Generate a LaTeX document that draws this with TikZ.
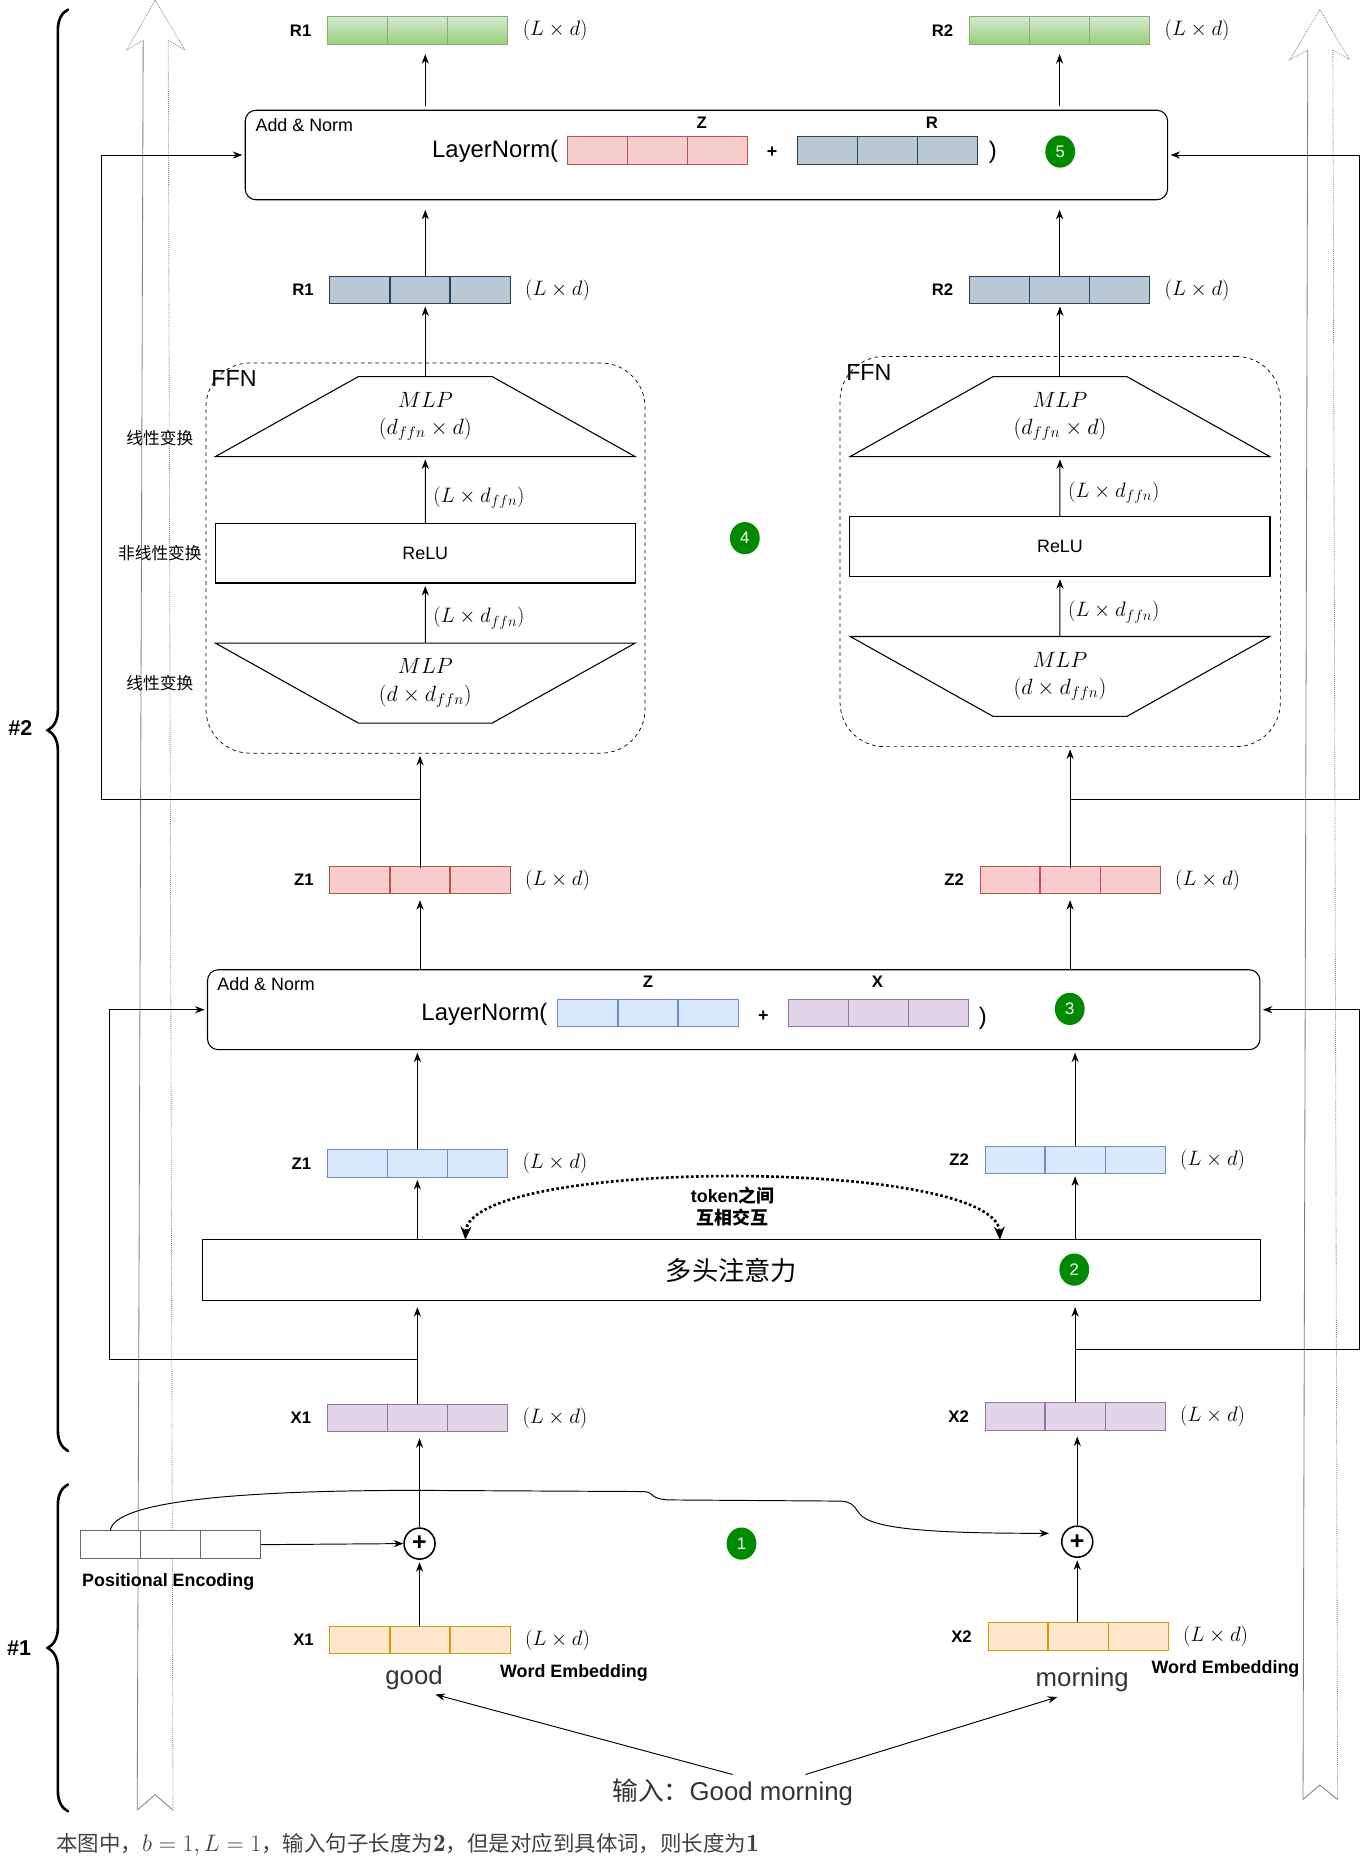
\RequirePackage{fix-cm}
\documentclass[tikz,border=0pt]{standalone}
\usepackage{fontspec}
\setmainfont{Liberation Sans}
\newfontfamily\cjk{Noto Sans CJK SC}
\usetikzlibrary{positioning,arrows.meta,calc,shapes.geometric,decorations.pathreplacing}

\definecolor{gnTop}{HTML}{D5E8D4}
\definecolor{gnBot}{HTML}{97D077}
\definecolor{gnLine}{HTML}{82B366}
\definecolor{pkFill}{HTML}{F8CECC}
\definecolor{pkLine}{HTML}{B85450}
\definecolor{stFill}{HTML}{BAC8D3}
\definecolor{stLine}{HTML}{23445D}
\definecolor{buFill}{HTML}{DAE8FC}
\definecolor{buLine}{HTML}{6C8EBF}
\definecolor{puFill}{HTML}{E1D5E7}
\definecolor{puLine}{HTML}{9673A6}
\definecolor{orFill}{HTML}{FFE6CC}
\definecolor{orLine}{HTML}{D79B00}
\definecolor{peLine}{HTML}{666666}
\definecolor{numGreen}{HTML}{008A00}

\newcommand{\fsz}[1]{\fontsize{#1}{#1}\selectfont}
\newcommand{\bnum}[1]{{\fontfamily{lmr}\fsz{21}\bfseries #1}}

\tikzset{
  vec/.style 2 args={draw=#2,fill=#1,line width=0.8pt,minimum width=151pt,minimum height=23pt,inner sep=0pt,
    path picture={\draw[#2,line width=1pt]
      ($(path picture bounding box.south west)!1/3!(path picture bounding box.south east)$) --
      ($(path picture bounding box.north west)!1/3!(path picture bounding box.north east)$)
      ($(path picture bounding box.south west)!2/3!(path picture bounding box.south east)$) --
      ($(path picture bounding box.north west)!2/3!(path picture bounding box.north east)$);}},
  vname/.style={font=\bfseries\fsz{14},inner sep=1pt},
  dimtxt/.style={font=\fsz{17.5},inner sep=1pt},
  conn/.style={-{Stealth[length=8pt,width=6pt]},line width=0.8pt,shorten >=2pt},
  normbox/.style={draw,line width=0.9pt,rounded corners=9pt,inner sep=0pt},
  ffnbox/.style={draw,dashed,line width=0.6pt,rounded corners=37pt,inner sep=0pt},
  mlp/.style={draw,line width=0.9pt,trapezium,trapezium stretches=true,
    trapezium left angle=26.2,trapezium right angle=26.2,minimum width=352pt,minimum height=67pt,
    align=center,font=\fontsize{18.5}{23}\selectfont,inner sep=0pt},
  relubox/.style={draw,line width=0.9pt,minimum width=352pt,minimum height=50pt,font=\fsz{15}},
  stepno/.style={ellipse,fill=numGreen,text=white,minimum width=25pt,minimum height=27pt,inner sep=0pt,font=\fsz{14}},
  oplus/.style={circle,draw,line width=1.3pt,minimum size=26pt,inner sep=0pt,font=\bfseries\fsz{21}},
  side/.style={font=\cjk\fsz{14}},
  bigarrow/.style={gray,line width=0.7pt},
  bracket/.style={decorate,decoration={brace,amplitude=17pt},line width=2.2pt,line cap=round},
}

\begin{document}
\begin{tikzpicture}[x=1pt,y=-1pt]
\useasboundingbox (0,0) rectangle (1147,1568);

% braces
\draw[bracket] (57,1216) -- (57,8);
\draw[bracket] (57,1518) -- (57,1244);
\node[font=\bfseries\fsz{18}] (lvl2) at (17,610) {\#2};
\node[font=\bfseries\fsz{18}] (lvl1) at (16,1381) {\#1};

% hollow flow arrows
\draw[bigarrow] (115,1517) -- (120,34);
\draw[bigarrow,densely dotted] (120,34) -- (106,42) -- (130,0) -- (155,42) -- (141,34) -- (145,1517);
\draw[bigarrow] (145,1517) -- (130,1504) -- (115,1517);
\draw[bigarrow] (1092,1508) -- (1096,42);
\draw[bigarrow,densely dotted] (1096,42) -- (1081,50) -- (1106,8) -- (1131,50) -- (1117,42) -- (1121,1508);
\draw[bigarrow] (1121,1508) -- (1106,1496) -- (1092,1508);

% output R1 / R2
\node[vec={gnTop}{gnLine},top color=gnTop,bottom color=gnBot] (r1out) at (350,25.5) {};
\node[vname,left=12pt of r1out] (r1outn) {R1};
\node[dimtxt,right=11pt of r1out] (r1outd) {$(L\times d)$};
\node[vec={gnTop}{gnLine},top color=gnTop,bottom color=gnBot] (r2out) at (888,25.5) {};
\node[vname,left=12pt of r2out] (r2outn) {R2};
\node[dimtxt,right=11pt of r2out] (r2outd) {$(L\times d)$};

% add & norm 5
\node[normbox,minimum width=773pt,minimum height=75pt] (an5) at (592,129.9) {};
\node[font=\fsz{15},anchor=west,inner sep=0pt] (an5t) at (214,104.5) {Add \& Norm};
\node[font=\fsz{20},anchor=east,inner sep=0pt] (an5ln) at (468,127) {LayerNorm(};
\node[vec={pkFill}{pkLine}] (an5z) at (551.2,126) {};
\node[vname] (an5zn) at (588,103) {Z};
\node[font=\bfseries\fsz{15}] (an5p) at (647,128) {+};
\node[vec={stFill}{stLine}] (an5r) at (744,126) {};
\node[vname] (an5rn) at (781,103) {R};
\node[font=\fsz{20}] (an5c) at (832,128) {)};
\node[stepno] (no5) at (888.5,127) {5};

% FFN outputs
\node[vec={stFill}{stLine}] (r1mid) at (352,243) {};
\node[vname,left=12pt of r1mid] (r1midn) {R1};
\node[dimtxt,right=11pt of r1mid] (r1midd) {$(L\times d)$};
\node[vec={stFill}{stLine}] (r2mid) at (888,243) {};
\node[vname,left=12pt of r2mid] (r2midn) {R2};
\node[dimtxt,right=11pt of r2mid] (r2midd) {$(L\times d)$};

% FFN blocks
\node[ffnbox,minimum width=368pt,minimum height=327pt] (ffn1) at (356.6,467.7) {};
\node[font=\fsz{19.5},anchor=west,inner sep=0pt] (ffn1t) at (177,317) {FFN};
\node[mlp] (mlp1u) at (356.4,349.1) {$MLP$\\$(d_{ffn}\times d)$};
\node[relubox] (relu1) at (356.4,463.6) {ReLU};
\node[mlp,shape border rotate=180] (mlp1d) at (356.4,572.5) {$MLP$\\$(d\times d_{ffn})$};
\node[dimtxt,anchor=west] (ff1a) at (362,417) {$(L\times d_{ffn})$};
\node[dimtxt,anchor=west] (ff1b) at (362,518) {$(L\times d_{ffn})$};
\draw[conn] (mlp1d.north) -- (relu1.south);
\draw[conn] (relu1.north) -- (mlp1u.south);
\draw[conn] (mlp1u.north) -- (r1mid.south -| mlp1u.north);

\node[ffnbox,minimum width=369pt,minimum height=327pt] (ffn2) at (888.5,462.2) {};
\node[font=\fsz{19.5},anchor=west,inner sep=0pt] (ffn2t) at (709,312) {FFN};
\node[mlp] (mlp2u) at (888.3,349.1) {$MLP$\\$(d_{ffn}\times d)$};
\node[relubox] (relu2) at (888.3,458) {ReLU};
\node[mlp,shape border rotate=180] (mlp2d) at (888.3,566.9) {$MLP$\\$(d\times d_{ffn})$};
\node[dimtxt,anchor=west] (ff2a) at (894,413) {$(L\times d_{ffn})$};
\node[dimtxt,anchor=west] (ff2b) at (894,513) {$(L\times d_{ffn})$};
\draw[conn] (mlp2d.north) -- (relu2.south);
\draw[conn] (relu2.north) -- (mlp2u.south);
\draw[conn] (mlp2u.north) -- (r2mid.south -| mlp2u.north);

% up through add & norm 5
\draw[conn,shorten >=8pt] (r1mid.north -| mlp1u) -- (an5.south -| mlp1u);
\draw[conn,shorten >=8pt] (r2mid.north) -- (an5.south -| r2mid);
\draw[conn,shorten >=8pt] ([yshift=3pt]an5.north -| mlp1u) -- (r1out.south -| mlp1u);
\draw[conn,shorten >=8pt] ([yshift=3pt]an5.north -| r2out) -- (r2out.south);

\node[side] (sd1) at (134,367) {线性变换};
\node[side] (sd2) at (134,463.6) {非线性变换};
\node[side] (sd3) at (134,572.4) {线性变换};
\node[stepno] (no4) at (624.2,451) {4};

% Z after add & norm
\node[vec={pkFill}{pkLine}] (z1n) at (352,737.5) {};
\node[vname,left=12pt of z1n] (z1nn) {Z1};
\node[dimtxt,right=11pt of z1n] (z1nd) {$(L\times d)$};
\node[vec={pkFill}{pkLine}] (z2n) at (896.8,737.5) {};
\node[vname,left=12pt of z2n] (z2nn) {Z2};
\node[dimtxt,right=11pt of z2n] (z2nd) {$(L\times d)$};
\draw[conn] ([yshift=-2pt]z1n.north) -- (ffn1.south -| z1n);
\draw[conn] ([yshift=-2pt]z2n.north) -- (ffn2.south -| z2n);

% residual into add & norm 5
\coordinate (skL2) at (85,670);
\coordinate (skR2) at (1139,670);
\draw[conn] (skL2 -| z1n) -- (skL2) |- (an5.west);
\draw[conn] (skR2 -| z2n) -- (skR2) |- (an5.east);

% add & norm 3
\node[normbox,minimum width=882pt,minimum height=67pt] (an3) at (614.9,846.2) {};
\node[font=\fsz{15},anchor=west,inner sep=0pt] (an3t) at (182,824.5) {Add \& Norm};
\node[font=\fsz{20},anchor=east,inner sep=0pt] (an3ln) at (459,850) {LayerNorm(};
\node[vec={buFill}{buLine}] (an3z) at (543,849) {};
\node[vname] (an3zn) at (543,823) {Z};
\node[font=\bfseries\fsz{15}] (an3p) at (639.7,851.8) {+};
\node[vec={puFill}{puLine}] (an3x) at (736.1,849) {};
\node[vname] (an3xn) at (735.4,823) {X};
\node[font=\fsz{20}] (an3c) at (823.6,853) {)};
\node[stepno] (no3) at (896.5,845.5) {3};
\draw[conn,shorten >=5pt] (an3.north -| z1n) -- (z1n.south);
\draw[conn,shorten >=5pt] (an3.north -| z2n) -- (z2n.south);

% Z after attention
\node[vec={buFill}{buLine}] (z1a) at (349.8,975) {};
\node[vname,left=12pt of z1a] (z1an) {Z1};
\node[dimtxt,right=11pt of z1a] (z1ad) {$(L\times d)$};
\node[vec={buFill}{buLine}] (z2a) at (901,972) {};
\node[vname,left=12pt of z2a] (z2an) {Z2};
\node[dimtxt,right=11pt of z2a] (z2ad) {$(L\times d)$};
\draw[conn] (z1a.north) -- (an3.south -| z1a);
\draw[conn] (z2a.north) -- (an3.south -| z2a);

% multi-head attention
\node[draw,line width=0.9pt,minimum width=886pt,minimum height=51pt,font=\cjk\fsz{22}] (att) at (613,1064.5) {多头注意力};
\node[stepno] (no2) at (900.3,1064) {2};
\draw[conn] (att.north -| z1a) -- (z1a.south);
\draw[conn] (att.north -| z2a) -- (z2a.south);
\coordinate (tokA) at (390,1039);
\coordinate (tokB) at (838,1039);
\draw[line width=2.2pt,dotted,{Stealth[length=11pt,width=9pt]}-{Stealth[length=11pt,width=9pt]}]
  (tokA) .. controls (393,970) and (835,970) .. (tokB);
\node[font=\bfseries\fontsize{15}{18}\selectfont,align=center] (tok) at (614,1011) {token{\cjk 之间}\\{\cjk 互相交互}};

% X inputs of the layer
\node[vec={puFill}{puLine}] (x1a) at (349.8,1188.5) {};
\node[vname,left=12pt of x1a] (x1an) {X1};
\node[dimtxt,right=11pt of x1a] (x1ad) {$(L\times d)$};
\node[vec={puFill}{puLine}] (x2a) at (901,1187) {};
\node[vname,left=12pt of x2a] (x2an) {X2};
\node[dimtxt,right=11pt of x2a] (x2ad) {$(L\times d)$};
\draw[conn,shorten >=5pt] (x1a.north) -- (att.south -| x1a);
\draw[conn,shorten >=5pt] (x2a.north) -- (att.south -| x2a);

% residual into add & norm 3
\coordinate (skL1) at (92,1139);
\coordinate (skR1) at (1139,1131);
\draw[conn] (skL1 -| x1a) -- (skL1) |- (an3.west);
\draw[conn] (skR1 -| x2a) -- (skR1) |- (an3.east);

% embeddings
\node[oplus] (add1) at (351.6,1293.6) {+};
\node[oplus] (add2) at (902.8,1292) {+};
\draw[conn,shorten >=5pt] (add1.north) -- (x1a.south -| add1.north);
\draw[conn,shorten >=5pt] (add2.north) -- (x2a.south -| add2.north);

\node[vec={white}{peLine}] (pe) at (143,1294.5) {};
\node[font=\bfseries\fsz{15}] (pet) at (141,1326) {Positional Encoding};
\draw[conn,shorten >=0pt] (pe.east) -- (add1.west);
\draw[conn] ($(pe.north west)!1/6!(pe.north east)$) .. controls (96,1258) and (200,1249) .. (350,1249)
  -- (540,1250) .. controls (549,1251) and (544,1256) .. (560,1257)
  -- (705,1258) .. controls (719,1259) and (716,1268) .. (726,1273)
  .. controls (745,1283) and (800,1285) .. ([xshift=-8pt,yshift=7pt]add2.west);
\node[stepno] (no1) at (621.4,1293.6) {1};

\node[vec={orFill}{orLine}] (x1e) at (352,1374.3) {};
\node[vname,left=12pt of x1e] (x1en) {X1};
\node[dimtxt,right=11pt of x1e] (x1ed) {$(L\times d)$};
\node[vec={orFill}{orLine}] (x2e) at (903.5,1371.5) {};
\node[vname,left=12pt of x2e] (x2en) {X2};
\node[dimtxt,right=11pt of x2e] (x2ed) {$(L\times d)$};
\draw[conn] (x1e.north -| add1) -- (add1.south);
\draw[conn] (x2e.north -| add2) -- (add2.south);

\node[font=\fsz{21.6},text=black!80] (good) at (347,1406) {good};
\node[font=\fsz{21.6},text=black!80] (morning) at (907,1408) {morning};
\node[font=\bfseries\fsz{15}] (we1) at (481,1402) {Word Embedding};
\node[font=\bfseries\fsz{15}] (we2) at (1027,1399) {Word Embedding};

\node[font=\fsz{21.6},text=black!80] (inp) at (614,1502) {{\cjk 输入：}Good morning};
\draw[conn] (inp.north) -- ([xshift=16pt]good.south);
\draw[conn] ([xshift=61pt]inp.north) -- ([xshift=-19pt]morning.south);

\node[anchor=west,font=\cjk\fsz{18},text=black!75,inner sep=0pt] (note) at (47,1546)
  {本图中，{\fsz{20}$b=1,L=1$}，输入句子长度为\bnum{2}，但是对应到具体词，则长度为\bnum{1}};
\end{tikzpicture}
\end{document}
